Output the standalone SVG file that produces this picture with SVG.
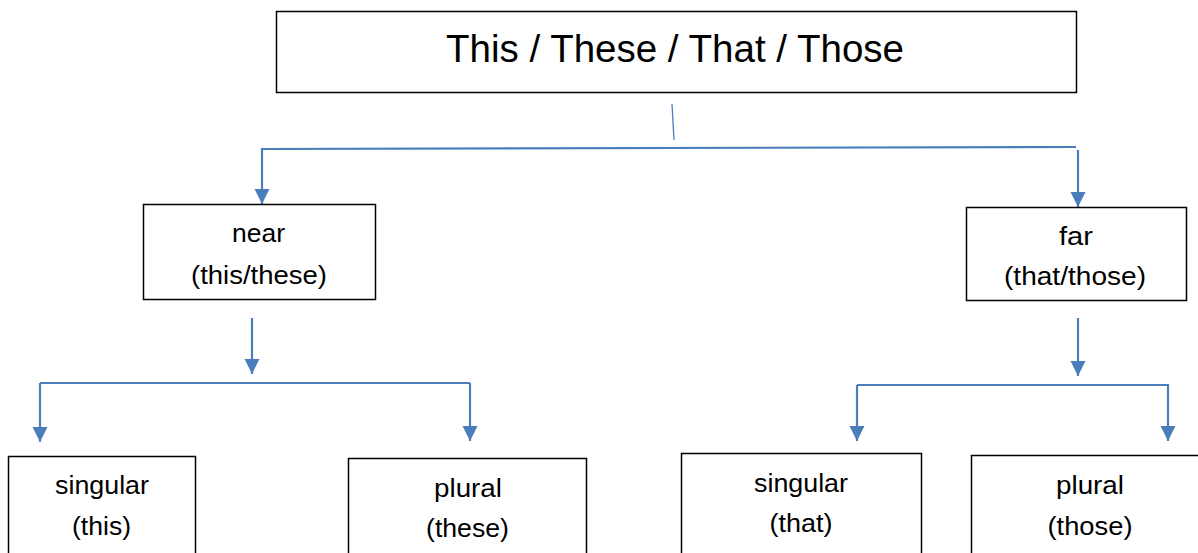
<svg xmlns="http://www.w3.org/2000/svg" width="1198" height="553" viewBox="0 0 1198 553">
<style>
.box{fill:#fff;stroke:#000;stroke-width:1.5}
.t{font-family:"Liberation Sans",Arial,sans-serif;font-size:26px;fill:#000;text-anchor:middle}
.title{font-size:38px}
.c{fill:none;stroke:#4a7ebb;stroke-width:2.2}
.a{marker-end:url(#ah)}
</style>
<defs>
<marker id="ah" markerUnits="userSpaceOnUse" markerWidth="16" markerHeight="16" viewBox="0 0 16 16" refX="15" refY="7.5" orient="auto">
<path d="M0,0 L15,7.5 L0,15 z" fill="#4a7ebb"/>
</marker>
</defs>
<rect width="1198" height="553" fill="#fff"/>
<g id="connectors">
<line class="c" x1="672" y1="104" x2="674" y2="140" style="stroke-width:1.3"/>
<line class="c" x1="262" y1="149" x2="1076" y2="147"/>
<line class="c a" x1="262" y1="148" x2="262" y2="204"/>
<line class="c a" x1="1078" y1="150" x2="1078" y2="207"/>
<line class="c a" x1="252" y1="318" x2="252" y2="374"/>
<line class="c" x1="40" y1="383" x2="470" y2="383"/>
<line class="c a" x1="40" y1="383" x2="40" y2="442"/>
<line class="c a" x1="470" y1="383" x2="470" y2="441"/>
<line class="c a" x1="1078" y1="318" x2="1078" y2="376"/>
<line class="c" x1="857" y1="385" x2="1168" y2="385"/>
<line class="c a" x1="857" y1="385" x2="857" y2="441"/>
<line class="c a" x1="1168" y1="384" x2="1168" y2="441"/>
</g>
<g id="root">
<rect class="box" x="276.5" y="11.5" width="800" height="81"/>
<text class="t title" x="675" y="62" textLength="458" lengthAdjust="spacingAndGlyphs">This / These / That / Those</text>
</g>
<g id="near">
<rect class="box" x="143.5" y="204.5" width="232" height="95"/>
<text class="t" x="258.5" y="242" textLength="53" lengthAdjust="spacingAndGlyphs">near</text>
<text class="t" x="259" y="284" textLength="136" lengthAdjust="spacingAndGlyphs">(this/these)</text>
</g>
<g id="far">
<rect class="box" x="966.5" y="207.5" width="220" height="93"/>
<text class="t" x="1076" y="245" textLength="34" lengthAdjust="spacingAndGlyphs">far</text>
<text class="t" x="1075" y="285" textLength="142" lengthAdjust="spacingAndGlyphs">(that/those)</text>
</g>
<g id="singular-this">
<rect class="box" x="8.5" y="456.5" width="187" height="120"/>
<text class="t" x="102" y="494" textLength="94" lengthAdjust="spacingAndGlyphs">singular</text>
<text class="t" x="101.5" y="535" textLength="59" lengthAdjust="spacingAndGlyphs">(this)</text>
</g>
<g id="plural-these">
<rect class="box" x="348.5" y="458.5" width="238" height="120"/>
<text class="t" x="468" y="497" textLength="68" lengthAdjust="spacingAndGlyphs">plural</text>
<text class="t" x="467.5" y="537" textLength="83" lengthAdjust="spacingAndGlyphs">(these)</text>
</g>
<g id="singular-that">
<rect class="box" x="681.5" y="453.5" width="240" height="120"/>
<text class="t" x="801" y="492" textLength="94" lengthAdjust="spacingAndGlyphs">singular</text>
<text class="t" x="801" y="532" textLength="63" lengthAdjust="spacingAndGlyphs">(that)</text>
</g>
<g id="plural-those">
<rect class="box" x="971.5" y="455.5" width="240" height="120"/>
<text class="t" x="1090" y="494" textLength="68" lengthAdjust="spacingAndGlyphs">plural</text>
<text class="t" x="1090" y="535" textLength="85" lengthAdjust="spacingAndGlyphs">(those)</text>
</g>
</svg>
